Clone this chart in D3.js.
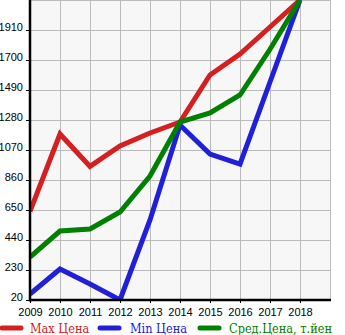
<!DOCTYPE html>
<html><head><meta charset="utf-8">
<script src="https://cdn.jsdelivr.net/npm/d3@7"></script>
<style>body{margin:0;background:#fff}svg{display:block}</style>
</head><body>
<svg id="c" width="345" height="335"></svg>
<script>
const years = [2009,2010,2011,2012,2013,2014,2015,2016,2017,2018];
const maxPrice = [640,1182,955,1098,1189,1266,1595,1742,1931,2120];
const minPrice = [62,237,132,20,580,1245,1042,972,1546,2120];
const avgPrice = [321,503,517,636,888,1266,1329,1455,1775,2120];
const yTicks = [20,230,440,650,860,1070,1280,1490,1700,1910];
const seriesNames = ["Max Цена","Min Цена","Сред.Цена, т.йен"];
const seriesColors = ["#d42020","#2020d8","#008000"];

const svg = d3.select("#c");
const L=30,R=330,T=0,B=300;
const x = d3.scaleLinear().domain([2009,2019]).range([L,R]);
const y = d3.scaleLinear().domain([20,2120]).range([B,T]);

svg.append("rect").attr("x",L).attr("y",T).attr("width",R-L).attr("height",B-T).attr("fill","#f7f7f7");
const g = svg.append("g");
d3.range(2009,2020).forEach(v=>{
  g.append("line").attr("x1",x(v)+0.5).attr("x2",x(v)+0.5).attr("y1",T).attr("y2",B).attr("stroke","#bbb").attr("stroke-width",1);
});
yTicks.concat([2120]).forEach(v=>{
  g.append("line").attr("x1",L).attr("x2",R).attr("y1",y(v)+0.5).attr("y2",y(v)+0.5).attr("stroke","#bbb").attr("stroke-width",1);
});

const clip = svg.append("clipPath").attr("id","pc").append("rect").attr("x",L).attr("y",T).attr("width",R-L).attr("height",B-T);
const line = d3.line().x((d,i)=>x(years[i])).y(d=>y(d));
[maxPrice,minPrice,avgPrice].forEach((s,k)=>{
  svg.append("path").attr("d",line(s)).attr("fill","none").attr("stroke",seriesColors[k])
    .attr("stroke-width",5).attr("stroke-linejoin","miter").attr("clip-path","url(#pc)");
});

// axes
const yAxis = d3.axisLeft(y).tickValues(yTicks).tickSize(4).tickPadding(3).tickFormat(d3.format("d"));
const ya = svg.append("g").attr("transform",`translate(${L},0)`).call(yAxis);
ya.select(".domain").remove();
ya.selectAll("text").attr("dy","0").style("font-family","'Liberation Sans',Arial,sans-serif").style("font-size","11px").attr("fill","#000");
ya.selectAll(".tick line").attr("stroke","#000");
const xAxis = d3.axisBottom(x).tickValues(years).tickSize(3).tickPadding(5).tickFormat(d3.format("d"));
const xa = svg.append("g").attr("transform",`translate(0,${B})`).call(xAxis);
xa.select(".domain").remove();
xa.selectAll("text").style("font-family","'Liberation Sans',Arial,sans-serif").style("font-size","11px").attr("fill","#000");
xa.selectAll(".tick line").attr("stroke","#000");
svg.append("line").attr("x1",L).attr("x2",L).attr("y1",T).attr("y2",B+1.5).attr("stroke","#000").attr("stroke-width",2.5);
svg.append("line").attr("x1",L).attr("x2",R+1).attr("y1",B).attr("y2",B).attr("stroke","#000").attr("stroke-width",2.5);

// legend
const legX = [2,100,200];
const legTX = [30,130,229];
seriesNames.forEach((n,k)=>{
  svg.append("line").attr("x1",legX[k]).attr("x2",legX[k]+19).attr("y1",328).attr("y2",328)
    .attr("stroke",seriesColors[k]).attr("stroke-width",5).attr("stroke-linecap","round");
  svg.append("text").attr("x",legTX[k]).attr("y",333).text(n).attr("fill",seriesColors[k])
    .style("font-family","'DejaVu Serif Condensed','DejaVu Serif',serif").style("font-stretch","condensed").style("font-size","12.6px");
});
</script>
</body></html>
